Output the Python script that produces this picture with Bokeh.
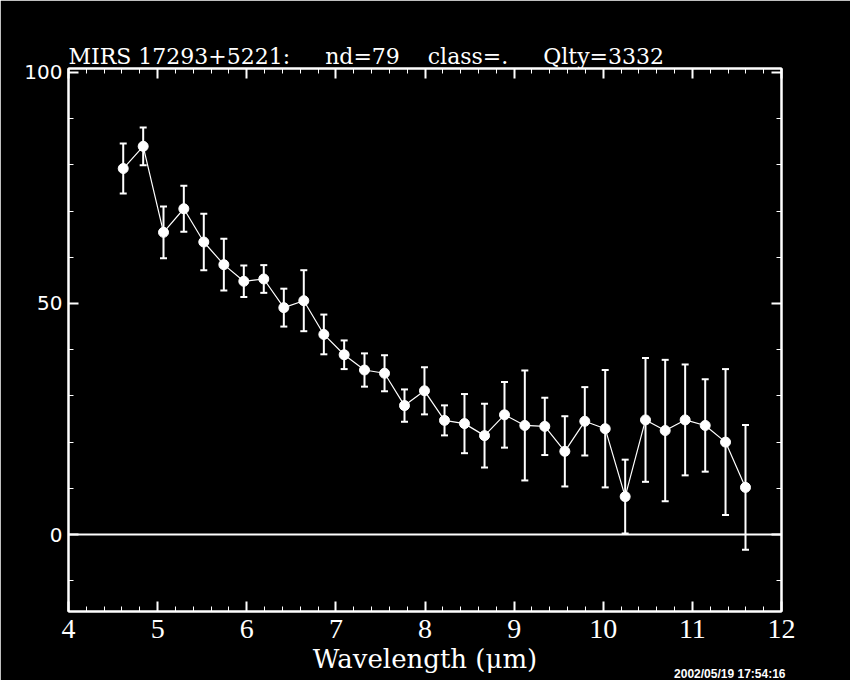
from bokeh.plotting import figure
from bokeh.models import (Range1d, LinearAxis, FixedTicker, Whisker, TeeHead,
                          ColumnDataSource, Span, Title)
from bokeh.embed import file_html
from bokeh.resources import INLINE

# ---- data ----
wavelength = [4.614, 4.838, 5.066, 5.294, 5.518, 5.743, 5.967, 6.191, 6.416, 6.640,
              6.865, 7.093, 7.321, 7.546, 7.770, 7.994, 8.219, 8.443, 8.668, 8.892,
              9.120, 9.344, 9.569, 9.793, 10.022, 10.246, 10.474, 10.695, 10.919,
              11.144, 11.372, 11.596]
flux = [79.2, 84.0, 65.4, 70.5, 63.3, 58.4, 54.8, 55.3, 49.1, 50.6,
        43.3, 38.9, 35.6, 34.9, 27.9, 31.1, 24.7, 24.0, 21.4, 25.9,
        23.6, 23.4, 18.0, 24.5, 22.9, 8.2, 24.8, 22.5, 24.8, 23.6, 20.0, 10.2]
flux_err = [5.4, 4.1, 5.6, 5.0, 6.1, 5.6, 3.4, 3.0, 4.1, 6.6,
            4.3, 3.1, 3.6, 3.9, 3.5, 5.1, 3.25, 6.4, 6.9, 7.1,
            11.9, 6.2, 7.6, 7.4, 12.7, 8.0, 13.4, 15.3, 12.0, 10.0, 15.8, 13.5]

x_major_ticks = [4, 5, 6, 7, 8, 9, 10, 11, 12]
x_minor_ticks = [4.2, 4.4, 4.6, 4.8, 5.2, 5.4, 5.6, 5.8, 6.2, 6.4, 6.6, 6.8,
                 7.2, 7.4, 7.6, 7.8, 8.2, 8.4, 8.6, 8.8, 9.2, 9.4, 9.6, 9.8,
                 10.2, 10.4, 10.6, 10.8, 11.2, 11.4, 11.6, 11.8]
y_major_ticks = [0, 50, 100]
y_minor_ticks = [-10, 10, 20, 30, 40, 60, 70, 80, 90]

NB = "\u00a0"
title_text = ("MIRS 17293+5221:" + NB * 5 + "nd=79" + NB * 4 + "class=." + NB * 5
              + "Qlty=3332")
x_label = "Wavelength (μm)"
timestamp = "2002/05/19 17:54:16"

# ---- figure ----
p = figure(width=850, height=680, output_backend="svg", toolbar_location=None,
           x_range=Range1d(4, 12), y_range=Range1d(-16.66, 100.85),
           x_axis_location=None, y_axis_location=None,
           background_fill_color="black", border_fill_color="black",
           outline_line_color="white", outline_line_width=2,
           min_border_left=68, min_border_right=69,
           min_border_top=68, min_border_bottom=69)
p.xgrid.visible = False
p.ygrid.visible = False

p.title.text = title_text
p.title.text_color = "white"
p.title.text_font = "DejaVu Serif"
p.title.text_font_size = "22px"
p.title.text_font_style = "normal"
p.title.align = "left"
p.title.offset = 0
p.title.standoff = 0


def style_axis(ax, show_labels, font, size):
    ax.axis_line_color = "white"
    ax.axis_line_width = 2
    ax.major_tick_line_color = "white"
    ax.minor_tick_line_color = "white"
    ax.major_tick_line_width = 2
    ax.minor_tick_line_width = 1
    ax.major_tick_in = 10
    ax.major_tick_out = 0
    ax.minor_tick_in = 5
    ax.minor_tick_out = 0
    if show_labels:
        ax.major_label_text_color = "white"
        ax.major_label_text_font = font
        ax.major_label_text_font_size = size
        ax.major_label_standoff = 6
    else:
        ax.major_label_text_color = None
        ax.major_label_text_font_size = "0px"
        ax.major_label_standoff = 0


bottom_axis = LinearAxis(ticker=FixedTicker(ticks=x_major_ticks, minor_ticks=x_minor_ticks))
style_axis(bottom_axis, True, "Liberation Serif", "28px")
bottom_axis.major_label_standoff = 8
bottom_axis.axis_label = x_label
bottom_axis.axis_label_text_color = "white"
bottom_axis.axis_label_text_font = "DejaVu Serif"
bottom_axis.axis_label_text_font_size = "26px"
bottom_axis.axis_label_text_font_style = "normal"
bottom_axis.axis_label_standoff = 3
p.add_layout(bottom_axis, "below")

stamp = Title(text=timestamp, align="right", vertical_align="top",
              text_color="white", text_font="Liberation Sans",
              text_font_style="bold", text_font_size="12px",
              standoff=-20, offset=-4)
p.add_layout(stamp, "below")

top_axis = LinearAxis(ticker=FixedTicker(ticks=x_major_ticks, minor_ticks=x_minor_ticks))
style_axis(top_axis, False, "Liberation Serif", "26px")
p.add_layout(top_axis, "above")

left_axis = LinearAxis(ticker=FixedTicker(ticks=y_major_ticks, minor_ticks=y_minor_ticks))
style_axis(left_axis, True, "DejaVu Sans", "20px")
p.add_layout(left_axis, "left")

right_axis = LinearAxis(ticker=FixedTicker(ticks=y_major_ticks, minor_ticks=y_minor_ticks))
style_axis(right_axis, False, "DejaVu Sans", "20px")
p.add_layout(right_axis, "right")

p.add_layout(Span(location=0, dimension="width", line_color="white", line_width=2))

src = ColumnDataSource(dict(
    x=wavelength, y=flux,
    lower=[f - e for f, e in zip(flux, flux_err)],
    upper=[f + e for f, e in zip(flux, flux_err)],
))

p.add_layout(Whisker(base="x", lower="lower", upper="upper", source=src,
                     line_color="white", line_width=2,
                     lower_head=TeeHead(size=7, line_color="white", line_width=2),
                     upper_head=TeeHead(size=7, line_color="white", line_width=2)))
p.line("x", "y", source=src, line_color="white", line_width=1.2)
p.scatter("x", "y", source=src, size=10, fill_color="white", line_color="white")

open("out.html", "w").write(file_html(p, INLINE))
